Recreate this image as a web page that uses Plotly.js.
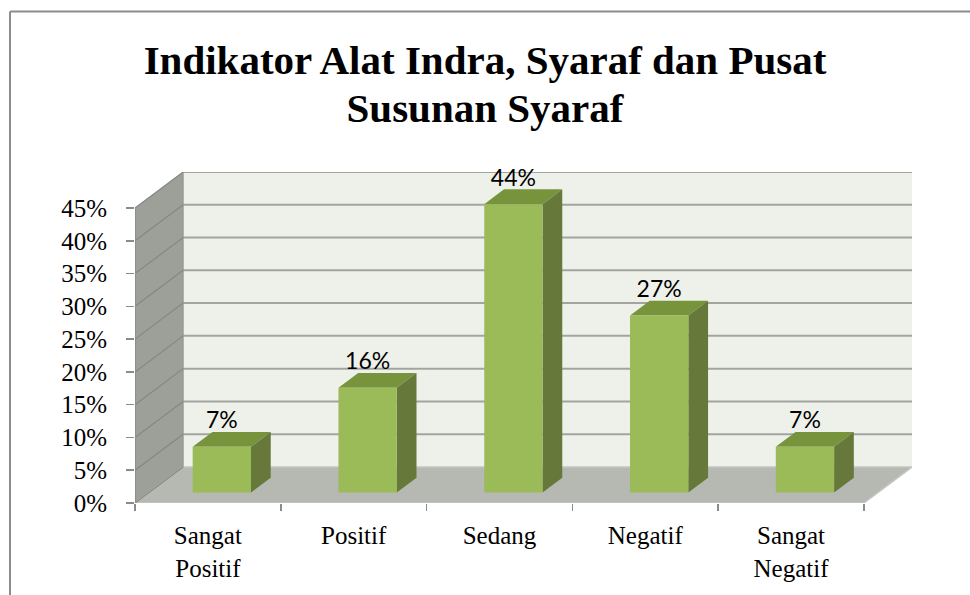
<!DOCTYPE html>
<html>
<head>
<meta charset="utf-8">
<script src="https://cdn.plot.ly/plotly-3.0.1.min.js"></script>
<style>html,body{margin:0;padding:0;background:#fff;}#chart{width:970px;height:595px;}</style>
</head>
<body>
<div id="chart"></div>
<script>
// ---- data ----
const categories = ['Sangat<br>Positif', 'Positif', 'Sedang', 'Negatif', 'Sangat<br>Negatif'];
const values = [7, 16, 44, 27, 7];
const valueLabels = ['7%', '16%', '44%', '27%', '7%'];
const yTickVals = [0, 5, 10, 15, 20, 25, 30, 35, 40, 45];
const yTickText = ['0%', '5%', '10%', '15%', '20%', '25%', '30%', '35%', '40%', '45%'];
const titleLines = ['Indikator Alat Indra, Syaraf dan Pusat', 'Susunan Syaraf'];

// ---- 3D look (depth offsets in axis units) ----
const DX = 0.33, DY = 5.5;      // full depth of floor / side wall
const D0 = 0.29, D1 = 0.70;     // bar front / back depth fraction
const HALF = 0.2;               // half bar width
const YMAX = 45;
const nCat = categories.length;
const idx = categories.map((c, i) => i);
const xLeft = -0.5, xRight = nCat - 0.5;

const margin = {l: 135, r: 58, t: 172, b: 92};
const W = 970, H = 595;
const SERIF = 'Liberation Serif, Times New Roman, serif';

const C = {
  wall: '#EEF1EA', side: '#9D9F99', floor: '#B6B8B2',
  grid: '#A3A4A0', sideGrid: '#858782', axis: '#8A8A8A',
  front: '#9BBB59', top: '#77933C', barSide: '#66793A'
};

function poly(pts) {
  return 'M' + pts.map(p => p[0] + ',' + p[1]).join(' L') + ' Z';
}

const shapes = [];
// back wall
shapes.push({type: 'path', layer: 'below', xref: 'x', yref: 'y', line: {width: 0}, fillcolor: C.wall,
  path: poly([[xLeft + DX, DY], [xRight + DX, DY], [xRight + DX, YMAX + DY], [xLeft + DX, YMAX + DY]])});
// side wall
shapes.push({type: 'path', layer: 'below', xref: 'x', yref: 'y', line: {width: 0}, fillcolor: C.side,
  path: poly([[xLeft, 0], [xLeft + DX, DY], [xLeft + DX, YMAX + DY], [xLeft, YMAX]])});
// floor
shapes.push({type: 'path', layer: 'below', xref: 'x', yref: 'y', line: {color: '#C4C5C1', width: 1.5}, fillcolor: C.floor,
  path: poly([[xLeft, 0], [xRight, 0], [xRight + DX, DY], [xLeft + DX, DY]])});
// gridlines on back wall and side wall
yTickVals.forEach(v => {
  if (v > 0) {
    shapes.push({type: 'line', layer: 'below', xref: 'x', yref: 'y', x0: xLeft + DX, x1: xRight + DX, y0: v + DY, y1: v + DY,
      line: {color: C.grid, width: 2}});
  }
  shapes.push({type: 'line', layer: 'below', xref: 'x', yref: 'y', x0: xLeft, x1: xLeft + DX, y0: v, y1: v + DY,
    line: {color: C.sideGrid, width: 1.2}});
});
// wall corner edge
shapes.push({type: 'line', layer: 'below', xref: 'x', yref: 'y', x0: xLeft + DX, x1: xLeft + DX, y0: DY, y1: YMAX + DY,
  line: {color: '#8E908B', width: 1}});
// front axis line
shapes.push({type: 'line', layer: 'below', xref: 'x', yref: 'y', x0: xLeft, x1: xLeft, y0: 0, y1: YMAX,
  line: {color: C.axis, width: 1.5}});
// bar top and side faces
idx.forEach(i => {
  const v = values[i];
  const xl = i - HALF, xr = i + HALF;
  shapes.push({type: 'path', layer: 'below', xref: 'x', yref: 'y', line: {width: 0}, fillcolor: C.top,
    path: poly([[xl + D0 * DX, v + D0 * DY], [xr + D0 * DX, v + D0 * DY], [xr + D1 * DX, v + D1 * DY], [xl + D1 * DX, v + D1 * DY]])});
  shapes.push({type: 'path', layer: 'below', xref: 'x', yref: 'y', line: {width: 0}, fillcolor: C.barSide,
    path: poly([[xr + D0 * DX, D0 * DY], [xr + D1 * DX, D1 * DY], [xr + D1 * DX, v + D1 * DY], [xr + D0 * DX, v + D0 * DY]])});
});

// outer chart frame (top and left border) in paper coords
const pw = W - margin.l - margin.r, ph = H - margin.t - margin.b;
const px2x = px => (px - margin.l) / pw;
const py2y = py => (H - margin.b - py) / ph;
shapes.push({type: 'line', xref: 'paper', yref: 'paper', x0: px2x(10), x1: px2x(975), y0: py2y(11.5), y1: py2y(11.5),
  line: {color: '#8C8C8C', width: 2}});
shapes.push({type: 'line', xref: 'paper', yref: 'paper', x0: px2x(10), x1: px2x(10), y0: py2y(11.5), y1: py2y(600),
  line: {color: '#8C8C8C', width: 2}});

const traces = [
  {
    type: 'bar',
    x: idx.map(i => i + D0 * DX),
    y: values,
    base: D0 * DY,
    width: 2 * HALF,
    marker: {color: C.front, line: {width: 0}},
    hoverinfo: 'none',
    showlegend: false
  },
  {
    type: 'scatter',
    mode: 'text',
    x: idx.map(i => i + D0 * DX),
    y: values.map(v => v + D1 * DY - 0.3),
    text: valueLabels,
    textposition: 'top center',
    textfont: {family: 'Lato, Open Sans, sans-serif', size: 23, color: '#000'},
    hoverinfo: 'none',
    showlegend: false,
    cliponaxis: false
  }
];

const layout = {
  width: W, height: H,
  autosize: false,
  margin: margin,
  paper_bgcolor: '#fff',
  plot_bgcolor: '#fff',
  showlegend: false,
  title: {
    text: titleLines.map(t => '<span style="font-size:41px">' + t + '</span>').join('<br>'),
    font: {family: SERIF, size: 37, color: '#000', weight: 'bold'},
    x: 0.5, xref: 'container', xanchor: 'center',
    y: 1 - 74 / H, yref: 'container', yanchor: 'middle'
  },
  xaxis: {
    type: 'linear',
    range: [xLeft, xRight + DX],
    tickmode: 'array',
    tickvals: idx,
    ticktext: categories,
    ticks: 'outside', ticklen: 0, tickcolor: 'rgba(0,0,0,0)',
    minor: {tickmode: 'array', tickvals: idx.map(i => i - 0.5).concat([xRight]), ticks: 'outside', ticklen: 7, tickcolor: C.axis, tickwidth: 1.5},
    showgrid: false, zeroline: false, showline: false,
    tickfont: {family: SERIF, size: 25, color: '#000'},
    ticklabelstandoff: 10,
    fixedrange: true
  },
  yaxis: {
    range: [0, YMAX + DY],
    tickmode: 'array',
    tickvals: yTickVals,
    ticktext: yTickText,
    ticks: 'outside', ticklen: 8, tickcolor: C.axis, tickwidth: 1.5,
    showgrid: false, zeroline: false, showline: false,
    tickfont: {family: SERIF, size: 25, color: '#000'},
    ticklabelstandoff: 14,
    fixedrange: true
  },
  shapes: shapes
};

Plotly.newPlot('chart', traces, layout, {displayModeBar: false, staticPlot: true});
</script>
</body>
</html>
